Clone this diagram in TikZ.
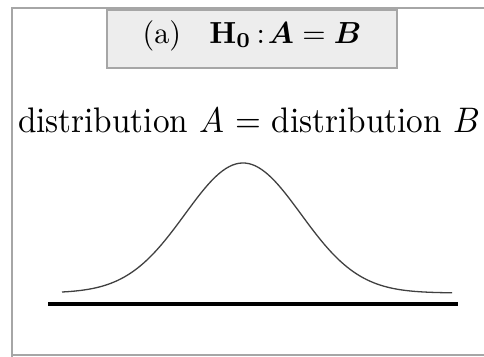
\documentclass[tikz,border=0pt]{standalone}
\usepackage{amsmath,bm,graphicx}
\begin{document}
\begin{tikzpicture}[x=1pt,y=-1pt,
  frame/.style={draw=black!35,line width=1.5pt},
  titlebox/.style={draw=black!35,fill=black!7,line width=1.2pt,minimum width=290pt,minimum height=58pt},
  curve/.style={draw=black!75,line width=1.3pt},
  axis/.style={draw=black,line width=4pt}]
\useasboundingbox (0,0) rectangle (484,356);
\draw[frame] (12,360) -- (12,8) -- (500,8);
\draw[frame] (12,355) -- (500,355);
\node[titlebox] (title) at (252,39) {};
\node[inner sep=0pt,anchor=base] (ttext) at (252,43) {\scalebox{3.0}[3.05]{(a)\hspace{9.5pt}$\mathbf{H}_{\mathbf{0}}\,$:\hspace{1pt}$\bm{A} = \bm{B}$}};
\node[inner sep=0pt,anchor=base] (lbl) at (249,132) {\scalebox{3.32}[3.55]{distribution $A$ = distribution $B$}};
\draw[curve] plot[domain=62:452,samples=120,smooth] (\x,{293-130*exp(-0.5*((\x-243)/58)^2)});
\coordinate (a0) at (48,304);
\coordinate (a1) at (458,304);
\draw[axis] (a0) -- (a1);
\end{tikzpicture}
\end{document}
